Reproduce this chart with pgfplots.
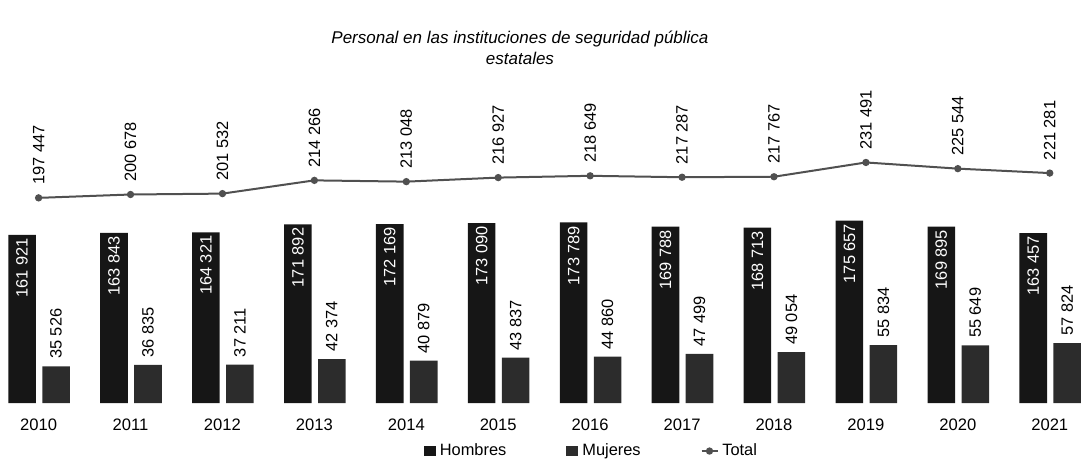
\documentclass[border=0pt]{standalone}
\usepackage{pgfplots}
\pgfplotsset{compat=1.18}
\usepackage{fontspec}
\setmainfont{Liberation Sans}
\definecolor{hom}{HTML}{161616}
\definecolor{muj}{HTML}{2C2C2C}
\definecolor{tot}{HTML}{505050}
\begin{document}
\begin{tikzpicture}
\begin{axis}[
  scale only axis, width=540.5pt, height=201.5pt,
  xmin=-0.42, xmax=11.34, ymin=0, ymax=387500,
  axis line style={draw=none}, ytick=\empty,
  xtick={0,1,2,3,4,5,6,7,8,9,10,11},
  xticklabels={2010,2011,2012,2013,2014,2015,2016,2017,2018,2019,2020,2021},
  major tick length=0pt,
  xticklabel style={font=\fontsize{8.3}{9}\selectfont, yshift=-4.5pt},
  /pgf/number format/fixed,
  /pgf/number format/precision=0,
  /pgf/number format/1000 sep={\ },
  /pgf/number format/assume math mode=true,
  nodes near coords style={font=\fontsize{8.2}{9}\selectfont},
  legend style={at={(0.548,0)}, anchor=north, yshift=-17pt, draw=none, fill=none,
    font=\fontsize{8.2}{9}\selectfont, inner sep=1pt,
    /tikz/every even column/.append style={column sep=28pt}},
  legend columns=3,
]
\addplot[ybar, bar width=0.3, bar shift=-0.18, fill=hom, draw=none,
  legend image code/.code={\fill[hom] (0pt,-2.5pt) rectangle (6pt,2.5pt);},
  nodes near coords,
  every node near coord/.append style={xshift=-8.26pt, rotate=90, anchor=east, color=white, inner xsep=1.5pt}]
coordinates {(0,161921)(1,163843)(2,164321)(3,171892)(4,172169)(5,173090)(6,173789)(7,169788)(8,168713)(9,175657)(10,169895)(11,163457)};
\addlegendentry{Hombres}
\addplot[ybar, bar width=0.3, bar shift=0.19, fill=muj, draw=none,
  legend image code/.code={\fill[muj] (0pt,-2.5pt) rectangle (6pt,2.5pt);},
  nodes near coords,
  every node near coord/.append style={xshift=8.72pt, rotate=90, anchor=west, color=black, inner xsep=3.5pt}]
coordinates {(0,35526)(1,36835)(2,37211)(3,42374)(4,40879)(5,43837)(6,44860)(7,47499)(8,49054)(9,55834)(10,55649)(11,57824)};
\addlegendentry{Mujeres}
\addplot[color=tot, line width=1pt, mark=*, mark size=1.3pt,
  legend image code/.code={\draw[tot, line width=0.8pt] (0pt,0pt) -- (8pt,0pt); \fill[tot] (4pt,0pt) circle (1.3pt);},
  nodes near coords,
  every node near coord/.append style={rotate=90, anchor=west, color=black, inner xsep=6pt}]
coordinates {(0,197447)(1,200678)(2,201532)(3,214266)(4,213048)(5,216927)(6,218649)(7,217287)(8,217767)(9,231491)(10,225544)(11,221281)};
\addlegendentry{Total}
\node[align=center, font=\itshape\fontsize{8.5}{10.5}\selectfont, anchor=north, inner sep=0pt]
  at (rel axis cs:0.481,1) [yshift=-15pt] {Personal en las instituciones de seguridad pública\\estatales};
\end{axis}
\path (current axis.south west) ++(0pt,-28.5pt);
\end{tikzpicture}
\end{document}
